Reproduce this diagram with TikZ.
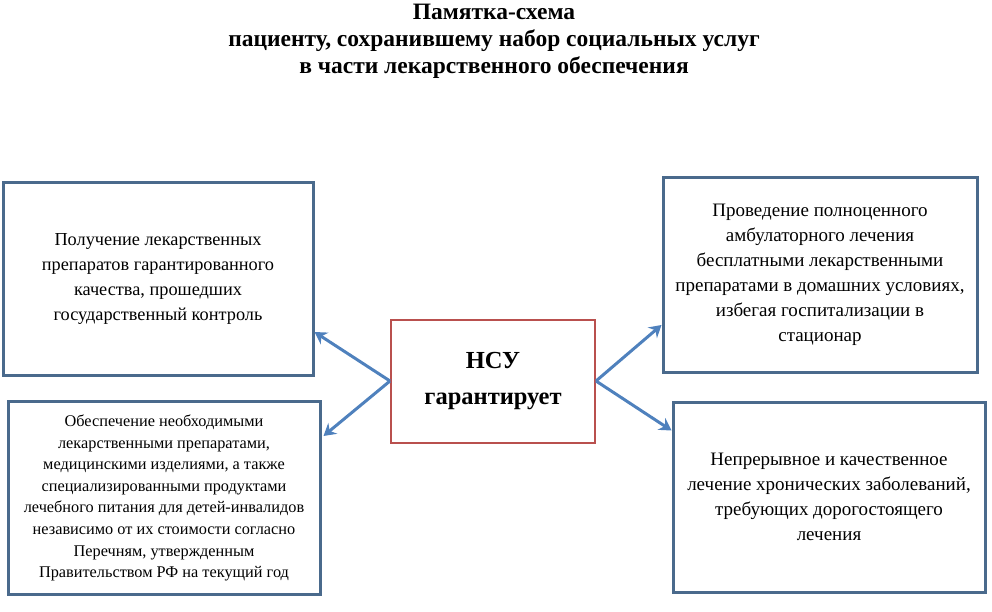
\documentclass[tikz,border=0pt]{standalone}
\usepackage{fontspec}
\setmainfont{Liberation Serif}
\usetikzlibrary{arrows.meta}
\definecolor{boxblue}{RGB}{74,106,140}
\definecolor{arrowblue}{RGB}{79,129,189}
\definecolor{boxred}{RGB}{185,80,78}
\tikzset{
  infobox/.style={draw=boxblue,line width=3pt,fill=white,align=center,inner sep=0pt},
  hubbox/.style={draw=boxred,line width=2pt,fill=white,align=center,inner sep=0pt,font=\fontsize{24.5}{36}\selectfont\bfseries},
  link/.style={draw=arrowblue,line width=3pt,-{Stealth[length=12pt,width=14pt,inset=4pt]}}
}
\begin{document}
\begin{tikzpicture}[x=1pt,y=-1pt]
  \useasboundingbox (0,0) rectangle (992,612);
  % title
  \node[align=center,font=\fontsize{23.5}{27}\selectfont\bfseries] (title) at (494,41)
    {Памятка-схема\\пациенту, сохранившему набор социальных услуг\\в части лекарственного обеспечения};
  % boxes
  \node[infobox,minimum width=310,minimum height=192,font=\fontsize{18.3}{25}\selectfont] (drugs) at (158,279)
    {Получение лекарственных\\препаратов гарантированного\\качества, прошедших\\государственный контроль};
  \node[infobox,minimum width=312,minimum height=193,font=\fontsize{16.3}{21.6}\selectfont] (supply) at (164,498)
    {Обеспечение необходимыми\\лекарственными препаратами,\\медицинскими изделиями, а также\\специализированными продуктами\\лечебного питания для детей-инвалидов\\независимо от их стоимости согласно\\Перечням, утвержденным\\Правительством РФ на текущий год};
  \node[infobox,minimum width=314,minimum height=194,font=\fontsize{19}{25}\selectfont] (home) at (820,275)
    {Проведение полноценного\\амбулаторного лечения\\бесплатными лекарственными\\препаратами в домашних условиях,\\избегая госпитализации в\\стационар};
  \node[infobox,minimum width=312,minimum height=190,font=\fontsize{19}{25}\selectfont] (chronic) at (829,497)
    {Непрерывное и качественное\\лечение хронических заболеваний,\\требующих дорогостоящего\\лечения};
  \node[hubbox,minimum width=204,minimum height=123] (nsu) at (493,381) {НСУ\\гарантирует};
  % arrows
  \draw[link] (nsu.west) -- ([yshift=-53pt]drugs.east);
  \draw[link] (nsu.west) -- ([xshift=2pt,yshift=-36pt]supply.north east);
  \draw[link] (nsu.east) -- ([yshift=-50pt]home.west);
  \draw[link] (nsu.east) -- ([yshift=-30pt]chronic.north west);
\end{tikzpicture}
\end{document}
